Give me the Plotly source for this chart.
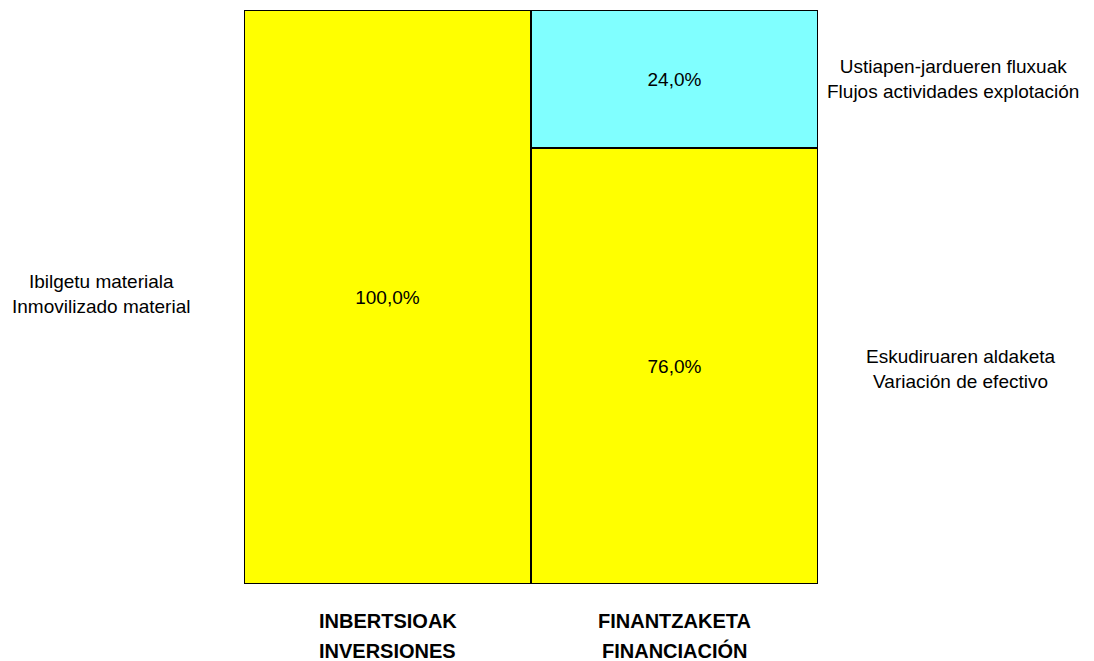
import plotly.graph_objects as go

categories = ["INBERTSIOAK", "FINANTZAKETA"]
category_sub = ["INVERSIONES", "FINANCIACIÓN"]

# bottom segment of each column, then top segment
bottom_values = [100.0, 76.0]
top_values = [0.0, 24.0]

left_labels = ["Ibilgetu materiala<br>Inmovilizado material"]
right_labels = ["Eskudiruaren aldaketa<br>Variación de efectivo",
                "Ustiapen-jardueren fluxuak<br>Flujos actividades explotación"]

FONT = "Liberation Sans Narrow, Arial Narrow, Liberation Sans, Arial, sans-serif"


def pct(v):
    return ("%.1f%%" % v).replace(".", ",")


fig = go.Figure()
fig.add_trace(go.Bar(
    x=categories, y=bottom_values,
    text=[pct(v) for v in bottom_values],
    textposition="inside", insidetextanchor="middle",
    textfont=dict(color="black", size=19, family=FONT),
    marker=dict(color="#FFFF00", line=dict(color="black", width=2)),
    hoverinfo="skip",
))
fig.add_trace(go.Bar(
    x=categories[1:], y=top_values[1:],
    text=[pct(v) for v in top_values[1:]],
    textposition="inside", insidetextanchor="middle",
    textfont=dict(color="black", size=19, family=FONT),
    marker=dict(color="#80FFFF", line=dict(color="black", width=2)),
    hoverinfo="skip",
))

# side labels, placed at the middle of their segments
side_font = dict(size=19, color="black", family=FONT)
fig.add_annotation(x=-0.25, y=bottom_values[0] / 2 + 0.5, xref="paper", yref="y",
                   xanchor="center", text=left_labels[0], showarrow=False,
                   align="center", font=side_font)
fig.add_annotation(x=1.248, y=bottom_values[1] / 2 - 0.5, xref="paper", yref="y",
                   xanchor="center", text=right_labels[0], showarrow=False,
                   align="center", font=side_font)
fig.add_annotation(x=1.236, y=bottom_values[1] + top_values[1] / 2, xref="paper", yref="y",
                   xanchor="center", text=right_labels[1], showarrow=False,
                   align="center", font=side_font)

# category labels, two lines under each column
cat_font = dict(size=20, color="black", family=FONT)
for cat, sub in zip(categories, category_sub):
    fig.add_annotation(x=cat, y=-0.064, xref="x", yref="paper", yanchor="middle",
                       text="<b>%s</b>" % cat, showarrow=False, font=cat_font)
    fig.add_annotation(x=cat, y=-0.116, xref="x", yref="paper", yanchor="middle",
                       text="<b>%s</b>" % sub, showarrow=False, font=cat_font)

fig.update_layout(
    barmode="stack", bargap=0, showlegend=False,
    width=1086, height=653,
    margin=dict(l=236, r=276, t=2, b=77),
    plot_bgcolor="white", paper_bgcolor="white",
    font=dict(family=FONT, color="black"),
)
fig.update_xaxes(showticklabels=False, showline=False, ticks="", showgrid=False)
fig.update_yaxes(range=[0, 100], visible=False)

fig.write_html("out.html")
